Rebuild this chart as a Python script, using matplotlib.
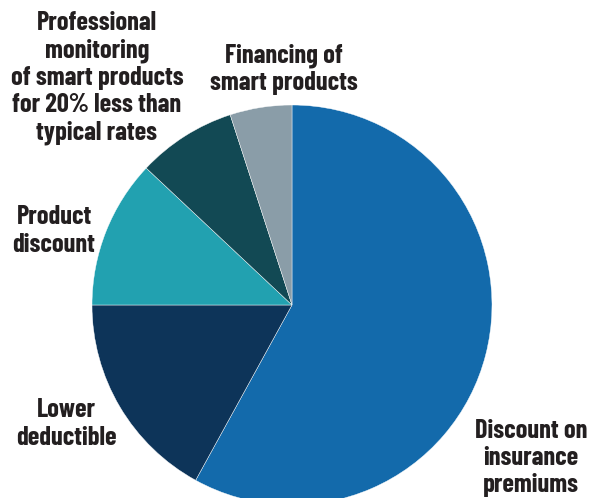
import matplotlib
matplotlib.use("Agg")
import matplotlib.pyplot as plt

labels = ["Discount on\ninsurance\npremiums", "Lower\ndeductible", "Product\ndiscount",
          "Professional\nmonitoring\nof smart products\nfor 20% less than\ntypical rates",
          "Financing of\nsmart products"]
values = [58, 17, 12, 8, 5]
colors = ["#136AAB", "#0D3459", "#22A1B0", "#124954", "#8A9DA8"]

W, H = 592, 498
fig = plt.figure(figsize=(W / 100, H / 100), dpi=100)
ax = fig.add_axes([0, 0, 1, 1])
ax.axis("off")

ax.pie(values, colors=colors, startangle=90, counterclock=False,
       center=(292, H - 305), radius=200,
       wedgeprops=dict(edgecolor="white", linewidth=0.3))
ax.set_xlim(0, W)
ax.set_ylim(0, H)
ax.set_aspect("auto")

label_pos = [(531, 458), (66, 424), (54, 231), (97, 78), (284, 69)]
font = dict(family=["Barlow Condensed", "DejaVu Sans"], weight="bold",
            fontsize=19, color="#231F20", ha="center", va="center", linespacing=1.17)
for lab, (x, y) in zip(labels, label_pos):
    ax.text(x, H - y, lab, **font)

fig.savefig("out.png", dpi=100)
